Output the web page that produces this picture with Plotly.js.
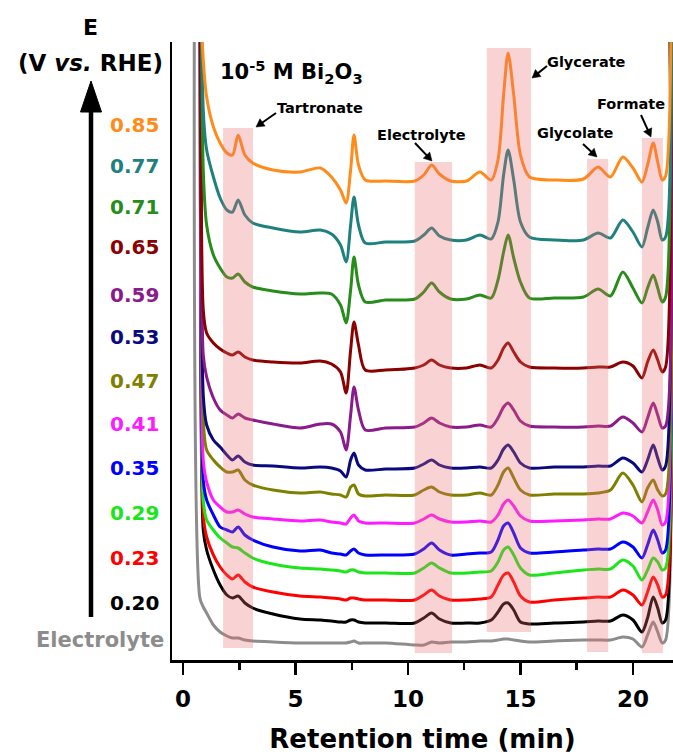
<!DOCTYPE html>
<html><head><meta charset="utf-8">
<script src="https://cdn.plot.ly/plotly-3.0.1.min.js"></script>
<style>html,body{margin:0;padding:0;background:#fff}#chart{width:673px;height:754px}</style>
</head><body><div id="chart"></div>
<script>
// Retention time grid (min)
const retentionTime = [0.55,0.75,0.9,1.05,1.35,1.65,1.95,2.2,2.45,2.75,3.1,4.0,5.2,6.1,6.6,7.0,7.25,7.45,7.6,7.8,8.1,9.0,10.3,10.7,11.05,11.4,11.9,12.6,13.2,13.7,14.0,14.25,14.45,14.7,15.0,15.4,16.5,17.8,18.45,19.0,19.55,20.0,20.4,20.65,20.9,21.1,21.3,21.45,21.6];

// Potential labels (top to bottom) and colours
const potentials = ['0.85','0.77','0.71','0.65','0.59','0.53','0.47','0.41','0.35','0.29','0.23','0.20','Electrolyte'];
const traceColors = ['#FF8C1A','#1F8080','#268C1A','#8B0000','#8B1A8B','#0A0A80','#808000','#FF1AFF','#0000FF','#1AE61A','#FF0000','#000000','#8C8C8C'];
// Vertical stacking offsets (a.u.)
const offsets = [479,420,361,292,233,192,165,138,106,88,61,38,17];

// Detector signal relative to each trace's baseline (a.u.)
const sig085 = [1000,200,121,84,54,38,28,26,46,26,18,11,9,13,4,-9,-22,11,46,16,1,0,0,6,16,7,0,0,9,1,21,86,128,86,26,4,1,2,14,4,24,13,-1,16,38,19,1,5,700];
const sig077 = [1000,500,130,90,63,42,30,28,40,25,17,12,8,10,6,-5,-22,15,43,15,-3,-2,-1,5,12,4,0,0,5,1,18,65,90,60,18,3,0,0,7,2,20,8,-7,12,30,18,0,3,700];
const sig071 = [1000,500,129,74,44,31,22,21,25,17,12,8,5,6,5,-6,-24,9,42,14,-3,-1,0,7,16,7,0,0,4,1,19,47,64,41,17,1,1,2,10,3,27,11,-4,11,24,11,-3,2,700];
const sig065 = [1000,600,58,35,25,19,15,13,16,11,8,6,5,7,4,-4,-25,18,46,23,-2,-2,0,3,8,3,0,0,3,0,8,20,25,16,6,1,0,0,1,1,6,2,-10,6,18,8,-4,1,700];
const sig059 = [1000,600,72,50,29,17,12,9,13,9,7,3,-1,3,3,-5,-23,12,40,17,-3,-1,0,4,9,4,0,0,2,0,9,20,24,17,6,1,0,0,1,1,10,4,-5,9,24,12,-1,1,700];
const sig053 = [1000,600,73,43,28,21,13,8,12,6,3,2,0,1,0,-3,-9,8,15,3,-2,-1,0,4,8,3,0,0,1,0,8,19,23,16,5,0,1,1,2,2,10,5,-4,8,23,10,-2,2,700];
const sig047 = [1000,600,75,45,35,28,23,23,25,15,10,5,2,3,1,0,-2,8,10,1,-1,0,0,5,8,3,0,0,2,0,10,23,27,17,5,0,1,1,2,5,22,10,-7,7,15,5,-1,1,700];
const sig041 = [1000,600,62,40,22,15,10,10,12,8,5,3,1,2,0,-1,-2,4,7,1,-1,-1,-1,3,7,3,0,0,1,0,7,18,22,16,6,1,1,2,3,3,9,6,-1,10,22,12,-3,0,700];
const sig035 = [1000,600,74,54,39,27,24,22,27,19,14,7,3,4,1,0,-1,3,5,1,-1,-1,0,5,11,4,-1,0,1,2,14,28,31,21,6,1,2,4,5,5,12,7,-4,9,24,14,1,4,700];
const sig029 = [1000,600,72,52,42,34,29,25,24,19,14,8,4,3,2,1,0,2,2,0,-1,-1,-1,4,9,4,-1,-1,0,1,10,22,25,17,4,-3,-1,2,3,3,12,6,-8,2,14,10,2,4,700];
const sig023 = [1000,600,84,62,44,32,24,20,24,17,12,7,3,2,1,0,-1,1,1,0,-1,-1,-1,4,9,3,-1,-1,0,2,14,24,26,17,3,-3,-1,1,2,2,9,4,-6,7,22,14,2,4,700];
const sig020 = [1000,600,92,72,52,37,27,24,26,19,14,8,3,2,1,0,0,2,2,0,-1,-1,-1,4,9,3,-1,-1,-1,2,10,18,19,12,0,-2,-1,0,1,1,7,2,-10,4,25,14,-1,2,700];
const sigElectrolyte = [1000,45,36,30,18,11,7,5,5,3,2,1,0,0,0,0,0,1,2,0,0,0,-2,-2,1,0,1,1,2,2,3,4,4,3,2,1,2,3,3,3,6,4,-4,8,21,11,0,3,700];

const signals = [sig085,sig077,sig071,sig065,sig059,sig053,sig047,sig041,sig035,sig029,sig023,sig020,sigElectrolyte];

// Highlighted product regions
const regionNames = ['Tartronate','Electrolyte','Glycerate','Glycolate','Formate'];
const regionStart = [1.78,10.3,13.5,17.96,20.4];
const regionEnd = [3.11,11.96,15.47,18.9,21.33];
const regionTop = [532,498,612,501,522];
const regionBottom = [12,7,28,8,7];

// ---------- layout geometry ----------
const W = 673, H = 754, ML = 172, MR = 0, MT = 42, MB = 94;
const PW = W - ML - MR, PH = H - MT - MB;
const XR = [-0.49, 21.78], YR = [0, 618];
const FONT = 'DejaVu Sans';
const xp = px => (px - ML) / PW;            // pixel -> paper x
const yp = py => (H - MB - py) / PH;        // pixel -> paper y
const tx = px => XR[0] + (px - ML) / PW * (XR[1] - XR[0]);  // pixel -> data x
const ty = py => YR[0] + (H - MB - py) / PH * (YR[1] - YR[0]); // pixel -> data y

const traces = [];
for (let i = signals.length - 1; i >= 0; i--) {
  traces.push({
    x: retentionTime,
    y: signals[i].map(v => v + offsets[i]),
    type: 'scatter', mode: 'lines',
    line: {color: traceColors[i], width: 3, shape: 'spline', smoothing: 0.8},
    hoverinfo: 'skip', showlegend: false
  });
}

const shapes = regionStart.map((s, i) => ({
  type: 'rect', xref: 'x', yref: 'y', x0: s, x1: regionEnd[i], y0: regionBottom[i], y1: regionTop[i],
  fillcolor: 'rgba(235,110,110,0.30)', line: {width: 0}, layer: 'above'
}));
// potential arrow
shapes.push({type: 'line', xref: 'paper', yref: 'paper', x0: xp(91), x1: xp(91), y0: yp(617), y1: yp(106),
  line: {color: '#000', width: 4.5}});
shapes.push({type: 'path', xref: 'paper', yref: 'paper',
  path: `M ${xp(80.5)},${yp(112)} L ${xp(101.5)},${yp(112)} L ${xp(91)},${yp(81)} Z`,
  fillcolor: '#000', line: {color: '#000', width: 1}});

const annotations = [];
const labelY = [125,166,207,247,295,337,381,424,468,513,558,603,640];
potentials.forEach((p, i) => {
  annotations.push({xref: 'paper', yref: 'paper', x: xp(i === 12 ? 166 : 161), y: yp(labelY[i]),
    xanchor: 'right', yanchor: 'middle', showarrow: false, text: '<b>' + p + '</b>',
    font: {family: FONT, size: i === 12 ? 21 : 20, color: traceColors[i]}});
});
annotations.push({xref: 'paper', yref: 'paper', x: xp(90), y: yp(27), xanchor: 'center', yanchor: 'middle',
  showarrow: false, text: '<b>E</b>', font: {family: FONT, size: 22, color: '#000'}});
annotations.push({xref: 'paper', yref: 'paper', x: xp(90), y: yp(63), xanchor: 'center', yanchor: 'middle',
  showarrow: false, text: '<b>(V <i>vs.</i> RHE)</b>', font: {family: FONT, size: 23, color: '#000'}});

// peak labels and pointer arrows (drawn as shapes)
const labelCenter = [[320,108],[421,135],[586,62],[575,133],[631,104]];
const arrowHead = [[256,127],[432,161],[532,78],[597,157],[651,137]];
const arrowTail = [[276,113],[415,143],[547,66],[583,144],[641,115]];
regionNames.forEach((n, i) => {
  annotations.push({xref: 'x', yref: 'y', x: tx(labelCenter[i][0]), y: ty(labelCenter[i][1]),
    xanchor: 'center', yanchor: 'middle', showarrow: false, text: '<b>' + n + '</b>',
    font: {family: FONT, size: 14.5, color: '#000'}});
  const [hx, hy] = arrowHead[i], [sx, sy] = arrowTail[i];
  const dx = hx - sx, dy = hy - sy, len = Math.hypot(dx, dy), ux = dx / len, uy = dy / len;
  const hl = 8, hw = 4.5;
  const bx = hx - ux * hl, by = hy - uy * hl;
  shapes.push({type: 'line', xref: 'paper', yref: 'paper', x0: xp(sx), y0: yp(sy), x1: xp(bx + ux), y1: yp(by + uy),
    line: {color: '#000', width: 2}});
  shapes.push({type: 'path', xref: 'paper', yref: 'paper',
    path: `M ${xp(hx)},${yp(hy)} L ${xp(bx - uy * hw)},${yp(by + ux * hw)} L ${xp(bx + uy * hw)},${yp(by - ux * hw)} Z`,
    fillcolor: '#000', line: {color: '#000', width: 0.5}});
});

const tickFont = {family: FONT, size: 23, color: '#000', weight: 'bold'};
const layout = {
  width: W, height: H,
  margin: {l: ML, r: MR, t: MT, b: MB, pad: 0},
  paper_bgcolor: '#fff', plot_bgcolor: '#fff',
  showlegend: false,
  title: {text: '<b>10<sup>-5</sup> M Bi<sub>2</sub>O<sub>3</sub></b>', xref: 'container', yref: 'container',
    x: 220 / W, xanchor: 'left', y: 1 - 72 / H, yanchor: 'middle', font: {family: FONT, size: 21, color: '#000'}},
  xaxis: {range: XR, showgrid: false, zeroline: false, showline: true, linecolor: '#000', linewidth: 2.5,
    ticks: 'outside', ticklen: 12, tickwidth: 2.5, tickcolor: '#000', tick0: 0, dtick: 5,
    minor: {tick0: 0, dtick: 2.5, ticks: 'outside', ticklen: 7, tickwidth: 2.5, tickcolor: '#000'},
    tickfont: tickFont, ticklabelstandoff: 5,
    title: {text: 'Retention time (min)', font: {family: FONT, size: 26, color: '#000', weight: 'bold'}, standoff: 22}},
  xaxis2: {range: XR, overlaying: 'x', side: 'top', anchor: 'y', showgrid: false, zeroline: false, showline: true,
    linecolor: '#000', linewidth: 2.5, ticks: 'inside', ticklen: 10, tickwidth: 2.5, tickcolor: '#000', tick0: 0, dtick: 5,
    minor: {tick0: 0, dtick: 2.5, ticks: 'inside', ticklen: 7, tickwidth: 2.5, tickcolor: '#000'},
    showticklabels: false},
  yaxis: {range: YR, showgrid: false, zeroline: false, showline: true, linecolor: '#000', linewidth: 2.5,
    ticks: '', showticklabels: false},
  shapes: shapes, annotations: annotations
};

Plotly.newPlot('chart', traces, layout, {displayModeBar: false, staticPlot: true});
</script>
</body></html>
